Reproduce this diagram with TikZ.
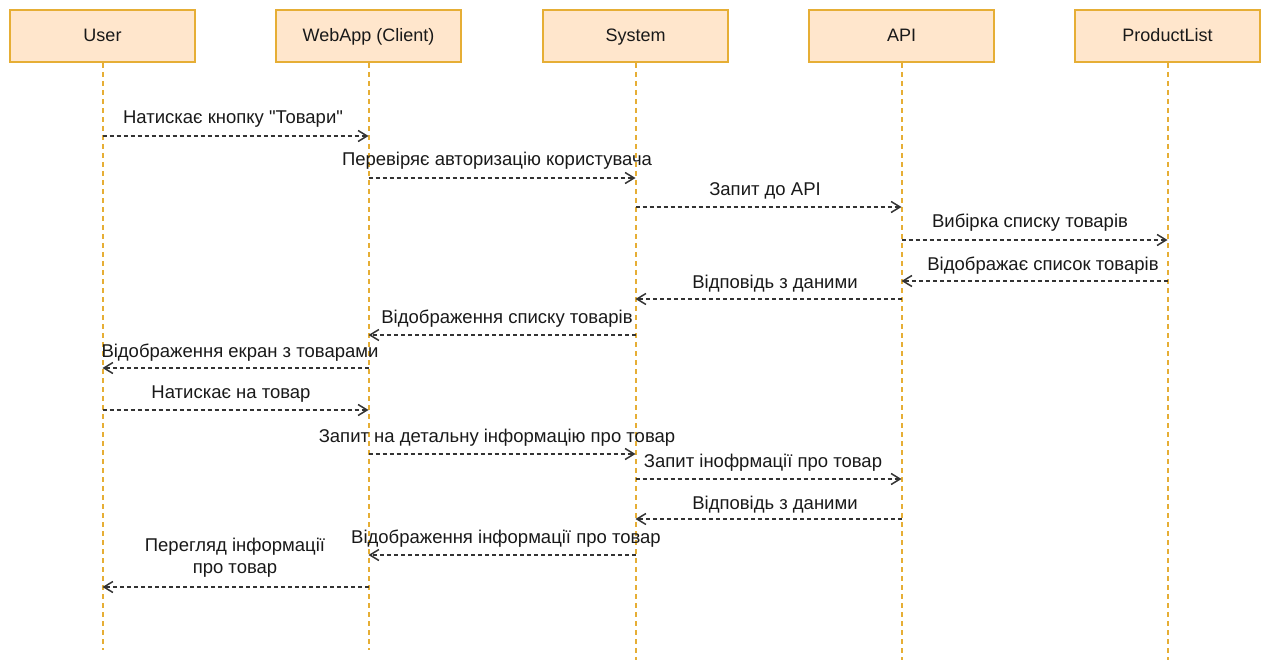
\documentclass[tikz,border=0pt]{standalone}
\usepackage{fontspec}
\setmainfont{Liberation Sans}[Ligatures=TeXOff]
\usetikzlibrary{arrows.meta}
\definecolor{boxfill}{HTML}{FFE6CC}
\definecolor{boxline}{HTML}{E6AE35}
\definecolor{msgline}{HTML}{333333}
\begin{document}
\begin{tikzpicture}[x=1pt,y=-1pt,
  actor/.style={draw=boxline,fill=boxfill,line width=2pt,minimum width=185pt,minimum height=52pt,inner sep=0pt,font=\fontsize{18}{21}\selectfont,text=black!90,text height=13pt,text depth=1pt},
  lifeline/.style={draw=boxline,line width=2pt,dash pattern=on 5pt off 4pt},
  msg/.style={draw=msgline,line width=1.5pt,dash pattern=on 4pt off 3pt,-{Straight Barb[length=9pt,width=11pt,line width=1.5pt]}},
  lbl/.style={font=\fontsize{18.5}{22}\selectfont,text=black!90,inner sep=0pt,text height=13pt,text depth=0pt,align=center}]
\useasboundingbox (0,0) rectangle (1264,663);

% participants
\node[actor] (user) at (102.5,36) {User};
\node[actor] (web)  at (368.5,36) {WebApp (Client)};
\node[actor] (sys)  at (635.5,36) {System};
\node[actor] (api)  at (901.5,36) {API};
\node[actor] (prod) at (1167.5,36) {ProductList};

% lifeline ends
\coordinate (userE) at (102.5,650);
\coordinate (webE)  at (368.5,650);
\coordinate (sysE)  at (635.5,660);
\coordinate (apiE)  at (901.5,660);
\coordinate (prodE) at (1167.5,660);

\draw[lifeline] (user.south) -- (userE);
\draw[lifeline] (web.south) -- (webE);
\draw[lifeline] (sys.south) -- (sysE);
\draw[lifeline] (api.south) -- (apiE);
\draw[lifeline] (prod.south) -- (prodE);

% messages
\draw[msg] (user |- 0,136) -- (web |- 0,136);
\node[lbl] (l1) at (233,117) {Натискає кнопку "Товари"};

\draw[msg] (web |- 0,178) -- (sys |- 0,178);
\node[lbl] (l2) at (497,159) {Перевіряє авторизацію користувача};

\draw[msg] (sys |- 0,207) -- (api |- 0,207);
\node[lbl] (l3) at (765,189) {Запит до API};

\draw[msg] (api |- 0,240) -- (prod |- 0,240);
\node[lbl] (l4) at (1030,221) {Вибірка списку товарів};

\draw[msg] (prod |- 0,281) -- (api |- 0,281);
\node[lbl] (l5) at (1043,264) {Відображає список товарів};

\draw[msg] (api |- 0,299) -- (sys |- 0,299);
\node[lbl] (l6) at (775,282) {Відповідь з даними};

\draw[msg] (sys |- 0,335) -- (web |- 0,335);
\node[lbl] (l7) at (507,317) {Відображення списку товарів};

\draw[msg] (web |- 0,368) -- (user |- 0,368);
\node[lbl] (l8) at (240,351) {Відображення екран з товарами};

\draw[msg] (user |- 0,410) -- (web |- 0,410);
\node[lbl] (l9) at (231,392) {Натискає на товар};

\draw[msg] (web |- 0,454) -- (sys |- 0,454);
\node[lbl] (l10) at (497,436) {Запит на детальну інформацію про товар};

\draw[msg] (sys |- 0,479) -- (api |- 0,479);
\node[lbl] (l11) at (763,461) {Запит інофрмації про товар};

\draw[msg] (api |- 0,519) -- (sys |- 0,519);
\node[lbl] (l12) at (775,503) {Відповідь з даними};

\draw[msg] (sys |- 0,555) -- (web |- 0,555);
\node[lbl] (l13) at (506,537) {Відображення інформації про товар};

\draw[msg] (web |- 0,587) -- (user |- 0,587);
\node[lbl,text height=,text depth=] (l14) at (235,558) {Перегляд інформації\\про товар};
\end{tikzpicture}
\end{document}
